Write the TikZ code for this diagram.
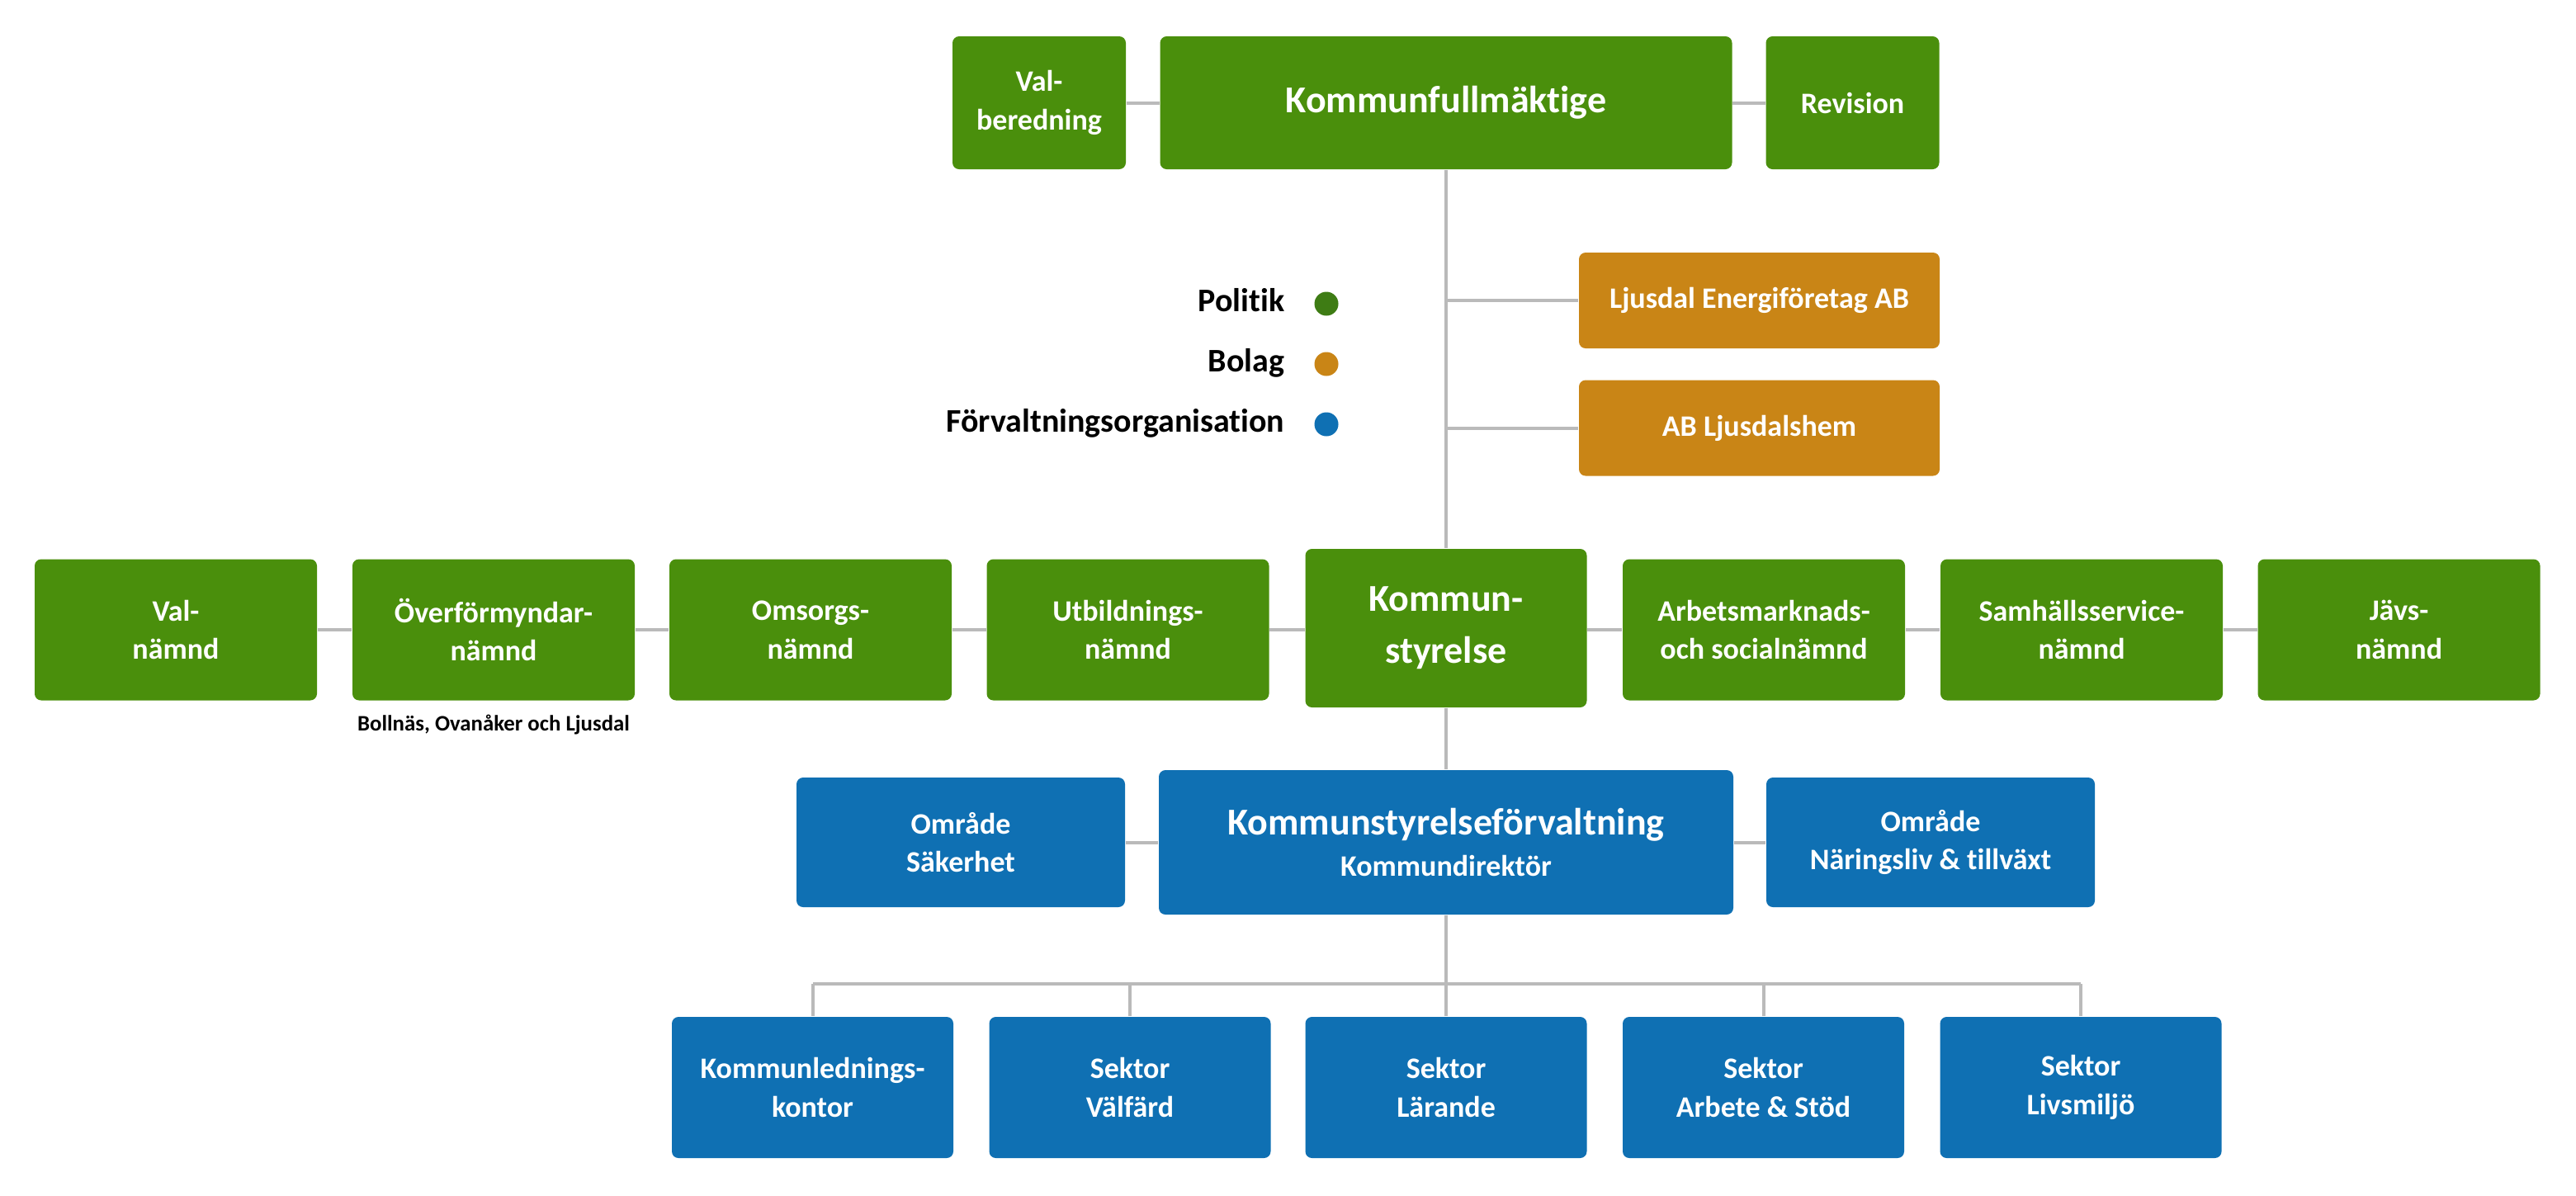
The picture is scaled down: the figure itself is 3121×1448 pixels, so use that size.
\documentclass[tikz,border=0pt]{standalone}
\usepackage{fontspec}
\setmainfont{Carlito}[Ligatures=NoCommon]
\definecolor{pgreen}{RGB}{74,143,12}
\definecolor{dgreen}{RGB}{62,124,20}
\definecolor{porange}{RGB}{201,133,22}
\definecolor{pblue}{RGB}{15,112,179}
\definecolor{linegray}{RGB}{186,186,186}
\tikzset{
  box/.style={rectangle, rounded corners=2pt, text=white, inner sep=0pt, align=center,
    font=\fontsize{9}{11.7}\selectfont\bfseries},
  bigbox/.style={box, font=\fontsize{11.5}{15.7}\selectfont\bfseries},
  gbox/.style={box, fill=pgreen},
  obox/.style={box, fill=porange, minimum width=109.25pt, minimum height=29pt},
  bbox/.style={box, fill=pblue},
  midbox/.style={gbox, minimum width=85.5pt, minimum height=42.75pt},
  secbox/.style={bbox, minimum width=85.25pt, minimum height=42.75pt},
  conn/.style={draw=linegray, line width=1pt},
  legtext/.style={anchor=base east, inner sep=0pt, font=\fontsize{10}{12}\selectfont\bfseries, text=black},
  legdot/.style={circle, inner sep=0pt, minimum size=7.25pt},
}
\begin{document}
\begin{tikzpicture}[x=0.25pt, y=-0.25pt]
\useasboundingbox (0,0) rectangle (3121,1448);
% top row
\node[gbox, minimum width=52.5pt, minimum height=40.25pt] (valb) at (1259,124.5) {Val-\\beredning};
\node[gbox, bigbox, minimum width=173.25pt, minimum height=40.25pt] (kf) at (1752,124.5) {Kommunfullmäktige};
\node[gbox, minimum width=52.5pt, minimum height=40.25pt] (rev) at (2244.5,124.5) {Revision};
% bolag
\node[obox] (energi) at (2131.5,364) {Ljusdal Energiföretag AB};
\node[obox] (hem) at (2131.5,518.5) {AB Ljusdalshem};
% legend
\node[legtext] (lpol) at (1557,377) {Politik};
\node[legtext] (lbol) at (1557,450) {Bolag};
\node[legtext] (lfor) at (1557,523) {Förvaltningsorganisation};
\node[legdot, fill=dgreen] (dpol) at (1607,368) {};
\node[legdot, fill=porange] (dbol) at (1607,441) {};
\node[legdot, fill=pblue] (dfor) at (1607,514) {};
% middle row
\node[midbox] (valn) at (213,763) {Val-\\nämnd};
\node[midbox] (overf) at (598,763) {Överförmyndar-\\nämnd};
\node[midbox] (oms) at (982,763) {Omsorgs-\\nämnd};
\node[midbox] (utb) at (1366.5,763) {Utbildnings-\\nämnd};
\node[gbox, bigbox, minimum width=85.25pt, minimum height=48pt] (ks) at (1752,761) {Kommun-\\styrelse};
\node[midbox] (arb) at (2137,763) {Arbetsmarknads-\\och socialnämnd};
\node[midbox] (samh) at (2522,763) {Samhällsservice-\\nämnd};
\node[midbox] (javs) at (2906.5,763) {Jävs-\\nämnd};
\node[anchor=base, inner sep=0pt, font=\fontsize{6.7}{8}\selectfont\bfseries] (capt) at (598,885) {Bollnäs, Ovanåker och Ljusdal};
% blue row
\node[bbox, minimum width=99.5pt, minimum height=39.25pt] (sak) at (1164,1020.5) {Område\\Säkerhet};
\node[bbox, minimum width=174pt, minimum height=43.75pt, font=\fontsize{11.5}{12.5}\selectfont\bfseries] (ksf) at (1752,1020.5) {Kommunstyrelseförvaltning\\{\fontsize{9}{11}\selectfont Kommundirektör}};
\node[bbox, minimum width=99.5pt, minimum height=39.25pt] (nar) at (2339,1020.5) {Område\\Näringsliv \& tillväxt};
% bottom row
\node[secbox] (s1) at (984.5,1317.5) {Kommunlednings-\\kontor};
\node[secbox] (s2) at (1369,1317.5) {Sektor\\Välfärd};
\node[secbox] (s3) at (1752,1317.5) {Sektor\\Lärande};
\node[secbox] (s4) at (2136.5,1317.5) {Sektor\\Arbete \& Stöd};
\node[secbox] (s5) at (2521,1317.5) {Sektor\\Livsmiljö};
\coordinate (bar) at (1752,1192);
% connectors
\draw[conn] (valb.east) -- (kf.west);
\draw[conn] (kf.east) -- (rev.west);
\draw[conn] (kf.south) -- (ks.north);
\draw[conn] (energi.west) -- (energi.west -| kf.south);
\draw[conn] (hem.west) -- (hem.west -| kf.south);
\draw[conn] (valn.east) -- (overf.west);
\draw[conn] (overf.east) -- (oms.west);
\draw[conn] (oms.east) -- (utb.west);
\draw[conn] (utb.east) -- (utb.east -| ks.west);
\draw[conn] (arb.west -| ks.east) -- (arb.west);
\draw[conn] (arb.east) -- (samh.west);
\draw[conn] (samh.east) -- (javs.west);
\draw[conn] (ks.south) -- (ksf.north);
\draw[conn] (sak.east) -- (ksf.west);
\draw[conn] (ksf.east) -- (nar.west);
\draw[conn] (ksf.south) -- (bar);
\draw[conn] (s1.north |- bar) -- (s5.north |- bar);
\foreach \s in {s1,s2,s3,s4,s5} {\draw[conn] (\s.north) -- (\s.north |- bar);}
\end{tikzpicture}
\end{document}
